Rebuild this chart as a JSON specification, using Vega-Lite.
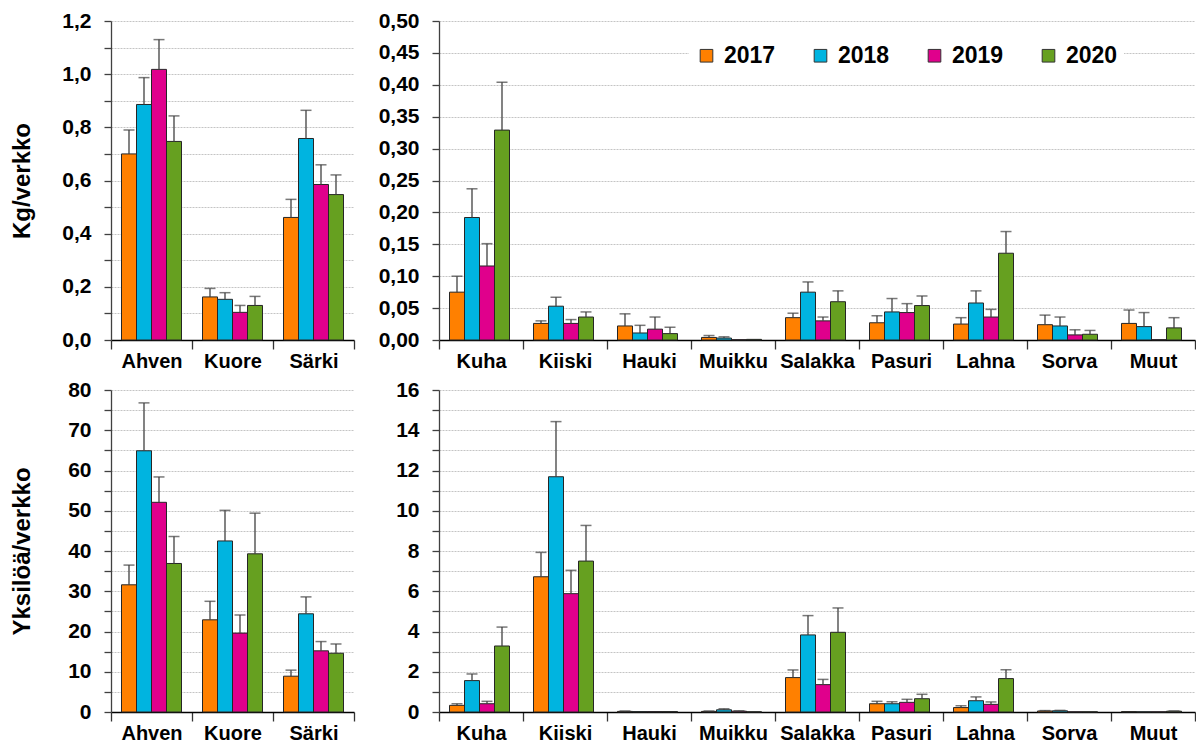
{
  "$schema": "https://vega.github.io/schema/vega-lite/v6.json",
  "padding": {"left": 10, "top": 10, "right": 0, "bottom": 0},
  "autosize": {"type": "pad"},
  "background": "white",
  "datasets": {
    "kgL": [
      {"laji": "Ahven", "vuosi": "2017", "v": 0.70, "u": 0.79},
      {"laji": "Ahven", "vuosi": "2018", "v": 0.886, "u": 0.987},
      {"laji": "Ahven", "vuosi": "2019", "v": 1.018, "u": 1.13},
      {"laji": "Ahven", "vuosi": "2020", "v": 0.747, "u": 0.843},
      {"laji": "Kuore", "vuosi": "2017", "v": 0.162, "u": 0.194},
      {"laji": "Kuore", "vuosi": "2018", "v": 0.153, "u": 0.178},
      {"laji": "Kuore", "vuosi": "2019", "v": 0.104, "u": 0.130},
      {"laji": "Kuore", "vuosi": "2020", "v": 0.130, "u": 0.164},
      {"laji": "Särki", "vuosi": "2017", "v": 0.461, "u": 0.529},
      {"laji": "Särki", "vuosi": "2018", "v": 0.758, "u": 0.864},
      {"laji": "Särki", "vuosi": "2019", "v": 0.585, "u": 0.659},
      {"laji": "Särki", "vuosi": "2020", "v": 0.547, "u": 0.621}
    ],
    "kgR": [
      {"laji": "Kuha", "vuosi": "2017", "v": 0.075, "u": 0.100},
      {"laji": "Kuha", "vuosi": "2018", "v": 0.192, "u": 0.237},
      {"laji": "Kuha", "vuosi": "2019", "v": 0.116, "u": 0.151},
      {"laji": "Kuha", "vuosi": "2020", "v": 0.329, "u": 0.404},
      {"laji": "Kiiski", "vuosi": "2017", "v": 0.026, "u": 0.030},
      {"laji": "Kiiski", "vuosi": "2018", "v": 0.053, "u": 0.067},
      {"laji": "Kiiski", "vuosi": "2019", "v": 0.026, "u": 0.032},
      {"laji": "Kiiski", "vuosi": "2020", "v": 0.036, "u": 0.044},
      {"laji": "Hauki", "vuosi": "2017", "v": 0.022, "u": 0.041},
      {"laji": "Hauki", "vuosi": "2018", "v": 0.011, "u": 0.023},
      {"laji": "Hauki", "vuosi": "2019", "v": 0.017, "u": 0.036},
      {"laji": "Hauki", "vuosi": "2020", "v": 0.010, "u": 0.020},
      {"laji": "Muikku", "vuosi": "2017", "v": 0.004, "u": 0.007},
      {"laji": "Muikku", "vuosi": "2018", "v": 0.003, "u": 0.005},
      {"laji": "Muikku", "vuosi": "2019", "v": 0.0005, "u": null},
      {"laji": "Muikku", "vuosi": "2020", "v": 0.001, "u": null},
      {"laji": "Salakka", "vuosi": "2017", "v": 0.035, "u": 0.042},
      {"laji": "Salakka", "vuosi": "2018", "v": 0.075, "u": 0.091},
      {"laji": "Salakka", "vuosi": "2019", "v": 0.030, "u": 0.036},
      {"laji": "Salakka", "vuosi": "2020", "v": 0.060, "u": 0.077},
      {"laji": "Pasuri", "vuosi": "2017", "v": 0.027, "u": 0.038},
      {"laji": "Pasuri", "vuosi": "2018", "v": 0.044, "u": 0.065},
      {"laji": "Pasuri", "vuosi": "2019", "v": 0.043, "u": 0.057},
      {"laji": "Pasuri", "vuosi": "2020", "v": 0.054, "u": 0.069},
      {"laji": "Lahna", "vuosi": "2017", "v": 0.025, "u": 0.035},
      {"laji": "Lahna", "vuosi": "2018", "v": 0.058, "u": 0.077},
      {"laji": "Lahna", "vuosi": "2019", "v": 0.036, "u": 0.048},
      {"laji": "Lahna", "vuosi": "2020", "v": 0.136, "u": 0.170},
      {"laji": "Sorva", "vuosi": "2017", "v": 0.024, "u": 0.039},
      {"laji": "Sorva", "vuosi": "2018", "v": 0.022, "u": 0.036},
      {"laji": "Sorva", "vuosi": "2019", "v": 0.008, "u": 0.016},
      {"laji": "Sorva", "vuosi": "2020", "v": 0.009, "u": 0.015},
      {"laji": "Muut", "vuosi": "2017", "v": 0.026, "u": 0.047},
      {"laji": "Muut", "vuosi": "2018", "v": 0.021, "u": 0.043},
      {"laji": "Muut", "vuosi": "2019", "v": 0.0005, "u": null},
      {"laji": "Muut", "vuosi": "2020", "v": 0.019, "u": 0.035}
    ],
    "nL": [
      {"laji": "Ahven", "vuosi": "2017", "v": 31.6, "u": 36.5},
      {"laji": "Ahven", "vuosi": "2018", "v": 64.9, "u": 76.8},
      {"laji": "Ahven", "vuosi": "2019", "v": 52.1, "u": 58.4},
      {"laji": "Ahven", "vuosi": "2020", "v": 36.9, "u": 43.6},
      {"laji": "Kuore", "vuosi": "2017", "v": 22.9, "u": 27.5},
      {"laji": "Kuore", "vuosi": "2018", "v": 42.5, "u": 50.1},
      {"laji": "Kuore", "vuosi": "2019", "v": 19.6, "u": 24.1},
      {"laji": "Kuore", "vuosi": "2020", "v": 39.3, "u": 49.4},
      {"laji": "Särki", "vuosi": "2017", "v": 8.9, "u": 10.4},
      {"laji": "Särki", "vuosi": "2018", "v": 24.4, "u": 28.6},
      {"laji": "Särki", "vuosi": "2019", "v": 15.2, "u": 17.5},
      {"laji": "Särki", "vuosi": "2020", "v": 14.6, "u": 16.9}
    ],
    "nR": [
      {"laji": "Kuha", "vuosi": "2017", "v": 0.33, "u": 0.41},
      {"laji": "Kuha", "vuosi": "2018", "v": 1.56, "u": 1.89},
      {"laji": "Kuha", "vuosi": "2019", "v": 0.41, "u": 0.53},
      {"laji": "Kuha", "vuosi": "2020", "v": 3.28, "u": 4.22},
      {"laji": "Kiiski", "vuosi": "2017", "v": 6.72, "u": 7.93},
      {"laji": "Kiiski", "vuosi": "2018", "v": 11.69, "u": 14.43},
      {"laji": "Kiiski", "vuosi": "2019", "v": 5.88, "u": 7.04},
      {"laji": "Kiiski", "vuosi": "2020", "v": 7.50, "u": 9.27},
      {"laji": "Hauki", "vuosi": "2017", "v": 0.03, "u": 0.05},
      {"laji": "Hauki", "vuosi": "2018", "v": 0.02, "u": null},
      {"laji": "Hauki", "vuosi": "2019", "v": 0.02, "u": null},
      {"laji": "Hauki", "vuosi": "2020", "v": 0.02, "u": null},
      {"laji": "Muikku", "vuosi": "2017", "v": 0.03, "u": 0.05},
      {"laji": "Muikku", "vuosi": "2018", "v": 0.11, "u": 0.16},
      {"laji": "Muikku", "vuosi": "2019", "v": 0.04, "u": 0.06},
      {"laji": "Muikku", "vuosi": "2020", "v": 0.01, "u": null},
      {"laji": "Salakka", "vuosi": "2017", "v": 1.71, "u": 2.09},
      {"laji": "Salakka", "vuosi": "2018", "v": 3.83, "u": 4.79},
      {"laji": "Salakka", "vuosi": "2019", "v": 1.36, "u": 1.62},
      {"laji": "Salakka", "vuosi": "2020", "v": 3.96, "u": 5.17},
      {"laji": "Pasuri", "vuosi": "2017", "v": 0.41, "u": 0.53},
      {"laji": "Pasuri", "vuosi": "2018", "v": 0.41, "u": 0.51},
      {"laji": "Pasuri", "vuosi": "2019", "v": 0.48, "u": 0.63},
      {"laji": "Pasuri", "vuosi": "2020", "v": 0.66, "u": 0.88},
      {"laji": "Lahna", "vuosi": "2017", "v": 0.22, "u": 0.31},
      {"laji": "Lahna", "vuosi": "2018", "v": 0.56, "u": 0.75},
      {"laji": "Lahna", "vuosi": "2019", "v": 0.38, "u": 0.50},
      {"laji": "Lahna", "vuosi": "2020", "v": 1.66, "u": 2.10},
      {"laji": "Sorva", "vuosi": "2017", "v": 0.05, "u": 0.07},
      {"laji": "Sorva", "vuosi": "2018", "v": 0.06, "u": 0.08},
      {"laji": "Sorva", "vuosi": "2019", "v": 0.01, "u": null},
      {"laji": "Sorva", "vuosi": "2020", "v": 0.01, "u": null},
      {"laji": "Muut", "vuosi": "2017", "v": 0.02, "u": null},
      {"laji": "Muut", "vuosi": "2018", "v": 0.01, "u": null},
      {"laji": "Muut", "vuosi": "2019", "v": 0.01, "u": null},
      {"laji": "Muut", "vuosi": "2020", "v": 0.04, "u": 0.05}
    ]
  },
  "columns": 2,
  "align": "each",
  "spacing": {"row": 8, "column": 19},
  "concat": [
    {
      "width": 243, "height": 319,
      "data": {"name": "kgL"},
      "encoding": {
        "x": {"field": "laji", "type": "nominal", "sort": ["Ahven", "Kuore", "Särki"], "title": null, "scale": {"paddingInner": 0, "paddingOuter": 0}},
        "xOffset": {"field": "vuosi", "type": "nominal", "sort": ["2017", "2018", "2019", "2020"], "scale": {"paddingInner": 0, "paddingOuter": 0.7}},
        "y": {"field": "v", "type": "quantitative", "title": "Kg/verkko", "scale": {"domain": [0, 1.2], "nice": false},
              "axis": {"values": [0, 0.1, 0.2, 0.3, 0.4, 0.5, 0.6, 0.7, 0.8, 0.9, 1.0, 1.1, 1.2], "labelExpr": "round(datum.value*10) % 2 == 0 ? replace(format(datum.value, '.1f'), '.', ',') : ''", "labelOverlap": false, "minExtent": 51, "maxExtent": 51, "titlePadding": 26}}
      },
      "layer": [
        {"mark": {"type": "bar", "stroke": "#262626", "strokeWidth": 1},
         "encoding": {
           "color": {"field": "vuosi", "type": "nominal", "title": null, "scale": {"domain": ["2017", "2018", "2019", "2020"], "range": ["#FF8000", "#00B4E0", "#E0008C", "#66A020"]}}
         }},
        {"mark": {"type": "rule", "color": "#404040", "strokeWidth": 1.3},
         "encoding": {"y2": {"field": "u"}}},
        {"mark": {"type": "tick", "color": "#404040", "thickness": 1.5, "orient": "horizontal"},
         "encoding": {"y": {"field": "u", "type": "quantitative", "title": "Kg/verkko", "axis": {"values": [0, 0.1, 0.2, 0.3, 0.4, 0.5, 0.6, 0.7, 0.8, 0.9, 1.0, 1.1, 1.2], "labelExpr": "round(datum.value*10) % 2 == 0 ? replace(format(datum.value, '.1f'), '.', ',') : ''", "labelOverlap": false, "minExtent": 51, "maxExtent": 51, "titlePadding": 26}}, "size": {"value": 11}}}
      ]
    },
    {
      "width": 756, "height": 319,
      "data": {"name": "kgR"},
      "encoding": {
        "x": {"field": "laji", "type": "nominal", "sort": ["Kuha", "Kiiski", "Hauki", "Muikku", "Salakka", "Pasuri", "Lahna", "Sorva", "Muut"], "title": null, "scale": {"paddingInner": 0, "paddingOuter": 0}},
        "xOffset": {"field": "vuosi", "type": "nominal", "sort": ["2017", "2018", "2019", "2020"], "scale": {"paddingInner": 0, "paddingOuter": 0.7}},
        "y": {"field": "v", "type": "quantitative", "title": null, "scale": {"domain": [0, 0.5], "nice": false},
              "axis": {"values": [0, 0.05, 0.1, 0.15, 0.2, 0.25, 0.3, 0.35, 0.4, 0.45, 0.5], "labelExpr": "replace(format(datum.value, '.2f'), '.', ',')", "labelOverlap": false, "minExtent": 65, "maxExtent": 65}}
      },
      "layer": [
        {"mark": {"type": "bar", "stroke": "#262626", "strokeWidth": 1},
         "encoding": {
           "color": {"field": "vuosi", "type": "nominal", "title": null, "scale": {"domain": ["2017", "2018", "2019", "2020"], "range": ["#FF8000", "#00B4E0", "#E0008C", "#66A020"]}}
         }},
        {"mark": {"type": "rule", "color": "#404040", "strokeWidth": 1.3},
         "encoding": {"y2": {"field": "u"}}},
        {"mark": {"type": "tick", "color": "#404040", "thickness": 1.5, "orient": "horizontal"},
         "encoding": {"y": {"field": "u", "type": "quantitative", "title": null, "axis": {"values": [0, 0.05, 0.1, 0.15, 0.2, 0.25, 0.3, 0.35, 0.4, 0.45, 0.5], "labelExpr": "replace(format(datum.value, '.2f'), '.', ',')", "labelOverlap": false, "minExtent": 65, "maxExtent": 65}}, "size": {"value": 11}}}
      ]
    },
    {
      "width": 243, "height": 322,
      "data": {"name": "nL"},
      "encoding": {
        "x": {"field": "laji", "type": "nominal", "sort": ["Ahven", "Kuore", "Särki"], "title": null, "scale": {"paddingInner": 0, "paddingOuter": 0}},
        "xOffset": {"field": "vuosi", "type": "nominal", "sort": ["2017", "2018", "2019", "2020"], "scale": {"paddingInner": 0, "paddingOuter": 0.7}},
        "y": {"field": "v", "type": "quantitative", "title": "Yksilöä/verkko", "scale": {"domain": [0, 80], "nice": false},
              "axis": {"values": [0, 5, 10, 15, 20, 25, 30, 35, 40, 45, 50, 55, 60, 65, 70, 75, 80], "labelExpr": "datum.value % 10 == 0 ? datum.label : ''", "labelOverlap": false, "minExtent": 51, "maxExtent": 51, "titlePadding": 26}}
      },
      "layer": [
        {"mark": {"type": "bar", "stroke": "#262626", "strokeWidth": 1},
         "encoding": {
           "color": {"field": "vuosi", "type": "nominal", "title": null, "scale": {"domain": ["2017", "2018", "2019", "2020"], "range": ["#FF8000", "#00B4E0", "#E0008C", "#66A020"]}}
         }},
        {"mark": {"type": "rule", "color": "#404040", "strokeWidth": 1.3},
         "encoding": {"y2": {"field": "u"}}},
        {"mark": {"type": "tick", "color": "#404040", "thickness": 1.5, "orient": "horizontal"},
         "encoding": {"y": {"field": "u", "type": "quantitative", "title": "Yksilöä/verkko", "axis": {"values": [0, 5, 10, 15, 20, 25, 30, 35, 40, 45, 50, 55, 60, 65, 70, 75, 80], "labelExpr": "datum.value % 10 == 0 ? datum.label : ''", "labelOverlap": false, "minExtent": 51, "maxExtent": 51, "titlePadding": 26}}, "size": {"value": 11}}}
      ]
    },
    {
      "width": 756, "height": 322,
      "data": {"name": "nR"},
      "encoding": {
        "x": {"field": "laji", "type": "nominal", "sort": ["Kuha", "Kiiski", "Hauki", "Muikku", "Salakka", "Pasuri", "Lahna", "Sorva", "Muut"], "title": null, "scale": {"paddingInner": 0, "paddingOuter": 0}},
        "xOffset": {"field": "vuosi", "type": "nominal", "sort": ["2017", "2018", "2019", "2020"], "scale": {"paddingInner": 0, "paddingOuter": 0.7}},
        "y": {"field": "v", "type": "quantitative", "title": null, "scale": {"domain": [0, 16], "nice": false},
              "axis": {"values": [0, 1, 2, 3, 4, 5, 6, 7, 8, 9, 10, 11, 12, 13, 14, 15, 16], "labelExpr": "datum.value % 2 == 0 ? datum.label : ''", "labelOverlap": false, "minExtent": 65, "maxExtent": 65}}
      },
      "layer": [
        {"mark": {"type": "bar", "stroke": "#262626", "strokeWidth": 1},
         "encoding": {
           "color": {"field": "vuosi", "type": "nominal", "title": null, "scale": {"domain": ["2017", "2018", "2019", "2020"], "range": ["#FF8000", "#00B4E0", "#E0008C", "#66A020"]}}
         }},
        {"mark": {"type": "rule", "color": "#404040", "strokeWidth": 1.3},
         "encoding": {"y2": {"field": "u"}}},
        {"mark": {"type": "tick", "color": "#404040", "thickness": 1.5, "orient": "horizontal"},
         "encoding": {"y": {"field": "u", "type": "quantitative", "title": null, "axis": {"values": [0, 1, 2, 3, 4, 5, 6, 7, 8, 9, 10, 11, 12, 13, 14, 15, 16], "labelExpr": "datum.value % 2 == 0 ? datum.label : ''", "labelOverlap": false, "minExtent": 65, "maxExtent": 65}}, "size": {"value": 11}}}
      ]
    }
  ],
  "config": {
    "font": "Liberation Sans",
    "view": {"stroke": null},
    "legend": {"orient": "none", "legendX": 578, "legendY": 17, "direction": "horizontal", "symbolType": "square", "symbolSize": 160, "symbolFillOpacity": 1, "symbolStrokeColor": "#333333", "symbolStrokeWidth": 1, "labelFont": "Liberation Sans", "labelFontWeight": "bold", "labelFontSize": 23, "labelColor": "#000000", "labelOffset": 6, "columnPadding": 33, "fillColor": "white", "padding": 6, "titleFontSize": 0},
    "axis": {"labelFont": "Liberation Sans", "labelFontWeight": "bold", "labelFontSize": 20, "labelColor": "#000000", "titleFont": "Liberation Sans", "titleFontWeight": "bold", "titleFontSize": 24, "titleColor": "#000000", "domainColor": "#404040", "tickColor": "#404040", "domainWidth": 1.3, "tickWidth": 1.3},
    "axisY": {"grid": true, "gridColor": "#c4c4c4", "gridDash": [2, 1], "gridWidth": 1, "tickSize": 7, "labelPadding": 13, "labelFontSize": 21, "labelOverlap": false},
    "axisX": {"grid": false, "labelPadding": 2, "labelAngle": 0, "domainColor": "#000000", "ticks": true, "tickBand": "extent", "tickColor": "#333333", "tickWidth": 1.3, "tickSize": 9, "zindex": 2}
  }
}
